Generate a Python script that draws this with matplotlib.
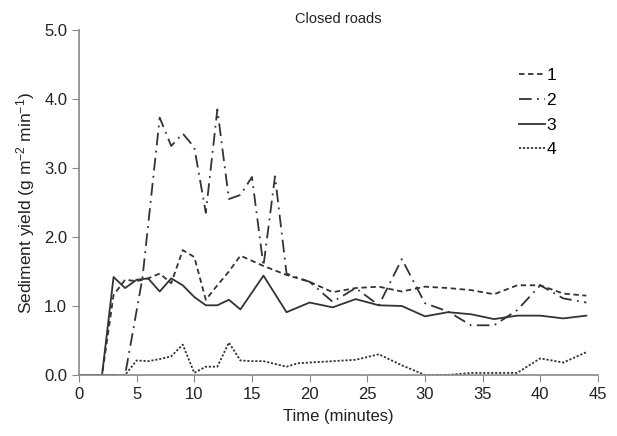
import matplotlib
matplotlib.use('Agg')
import matplotlib.pyplot as plt

plt.rcParams['font.family'] = ['Liberation Sans', 'DejaVu Sans']
plt.rcParams['mathtext.default'] = 'regular'

# series 1 (dashed)
t1 = [0, 2, 3, 4, 5, 6, 7, 8, 9, 10, 11, 12, 13, 14, 16, 18, 20, 22, 24, 26, 28, 30, 32, 34, 36, 38, 40, 42, 44]
y1 = [0, 0, 1.16, 1.38, 1.36, 1.40, 1.47, 1.33, 1.81, 1.71, 1.09, 1.30, 1.50, 1.73, 1.58, 1.45, 1.35, 1.20, 1.26,
      1.28, 1.21, 1.28, 1.26, 1.23, 1.17, 1.30, 1.30, 1.18, 1.15]

# series 2 (dash-dot)
t2 = [0, 4, 5.5, 7, 8, 9, 10, 11, 12, 13, 14, 15, 16, 17, 18, 20, 22, 24, 26, 28, 30, 32, 34, 36, 38, 40, 42, 44]
y2 = [0, 0, 1.40, 3.73, 3.32, 3.50, 3.30, 2.35, 3.85, 2.55, 2.61, 2.87, 1.58, 2.88, 1.47, 1.35, 1.06, 1.26,
      1.01, 1.68, 1.04, 0.92, 0.72, 0.72, 0.94, 1.30, 1.11, 1.05]

# series 3 (solid)
t3 = [0, 2, 3, 4, 5, 6, 7, 8, 9, 10, 11, 12, 13, 14, 16, 18, 20, 22, 24, 26, 28, 30, 32, 34, 36, 38, 40, 42, 44]
y3 = [0, 0, 1.42, 1.26, 1.38, 1.40, 1.21, 1.40, 1.30, 1.13, 1.01, 1.01, 1.09, 0.95, 1.44, 0.91, 1.05, 0.98, 1.10,
      1.01, 1.00, 0.85, 0.91, 0.88, 0.81, 0.86, 0.86, 0.82, 0.86]

# series 4 (dotted)
t4 = [0, 4, 5, 6, 7, 8, 9, 10, 11, 12, 13, 14, 15, 16, 18, 19, 20, 22, 24, 26, 28, 30, 32, 34, 36, 38, 40, 42, 44]
y4 = [0, 0, 0.21, 0.20, 0.23, 0.27, 0.44, 0.03, 0.12, 0.12, 0.47, 0.21, 0.20, 0.20, 0.12, 0.17, 0.18, 0.20, 0.22,
      0.30, 0.14, 0.0, 0.0, 0.03, 0.03, 0.03, 0.24, 0.18, 0.33]

labels = ['1', '2', '3', '4']

fig = plt.figure(figsize=(6.17, 4.36), dpi=100)
ax = fig.add_axes([0.128, 0.140, 0.841, 0.791])

c = '#333333'
ax.plot(t1, y1, color=c, lw=1.3, linestyle=(0, (3, 2)), label=labels[0])
ax.plot(t2, y2, color=c, lw=1.3, linestyle=(0, (7, 3, 1, 3)), label=labels[1])
ax.plot(t3, y3, color=c, lw=1.3, linestyle='-', label=labels[2])
ax.plot(t4, y4, color=c, lw=1.3, linestyle=(0, (1.2, 1)), label=labels[3])

ax.set_xlim(0, 45)
ax.set_ylim(0, 5)
ax.set_xticks(range(0, 46, 5))
ax.set_yticks([0, 1, 2, 3, 4, 5])
ax.set_yticklabels(['0.0', '1.0', '2.0', '3.0', '4.0', '5.0'])

for s in ['top', 'right']:
    ax.spines[s].set_visible(False)
for s in ['left', 'bottom']:
    ax.spines[s].set_color('#888888')
    ax.spines[s].set_linewidth(1.2)
ax.tick_params(direction='out', length=5, color='#888888', labelsize=12, labelcolor='#222222')

ax.set_xlabel('Time (minutes)', fontsize=12, color='#222222', labelpad=5)
ax.set_ylabel('Sediment yield (g m$^{-2}$ min$^{-1}$)', fontsize=12.5, color='#222222', labelpad=5)
ax.set_title('Closed roads', fontsize=10.5, color='#222222', pad=5)

leg = ax.legend(loc='upper right', bbox_to_anchor=(0.95, 0.935), frameon=False, fontsize=12.5,
                handlelength=1.5, handletextpad=0.1, labelspacing=0.55)

fig.savefig('out.png', dpi=100)
